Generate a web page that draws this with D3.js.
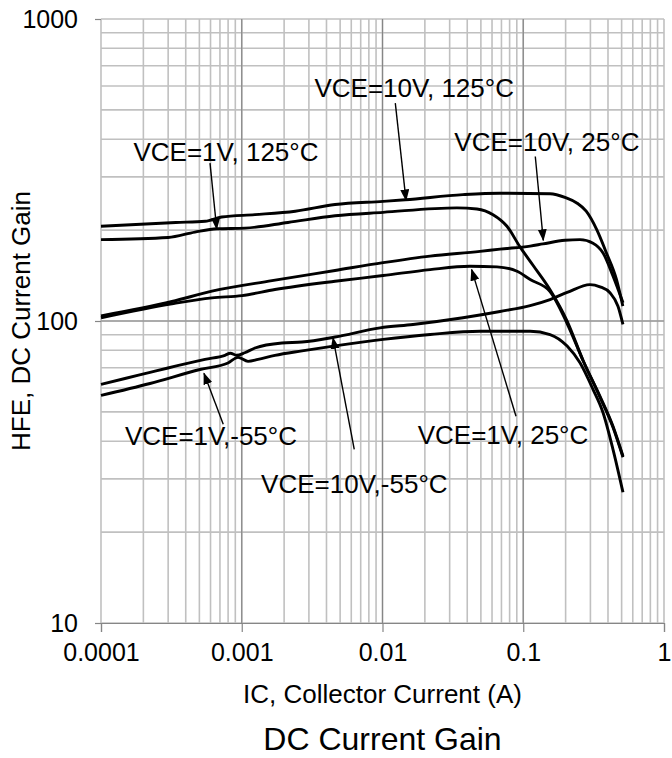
<!DOCTYPE html>
<html>
<head>
<meta charset="utf-8">
<script src="https://cdn.jsdelivr.net/npm/d3@7/dist/d3.min.js"></script>
<style>
    body { margin: 0; background: #fff; }
    text { font-family: "Liberation Sans", Arial, sans-serif; fill: #000; }
</style>
</head>
<body>
<div id="wrapper"></div>
<script>
// curves: IC in A, HFE
const ic10V125 = [1e-4, 3.4e-4, 5.5e-4, 7.2e-4, 1.24e-3, 2.4e-3, 4.6e-3, 0.0101, 0.0145, 0.0373, 0.068, 0.155, 0.2, 0.24, 0.28, 0.334, 0.39, 0.46, 0.51]
const hfe10V125 = [206, 212, 214, 221, 225, 231, 243, 249, 252, 262, 265, 264, 256, 246, 231, 200, 168, 137, 112]

const ic1V125 = [1e-4, 3.0e-4, 4.65e-4, 6.67e-4, 1.055e-3, 2.13e-3, 4.6e-3, 0.0101, 0.0338, 0.0469, 0.061, 0.0766, 0.0948, 0.1173, 0.155, 0.205, 0.266, 0.351, 0.434, 0.511]
const hfe1V125 = [186, 189, 197, 202, 203, 212, 223, 229, 237, 235, 225, 206, 176, 153, 127, 100, 74, 56.3, 44.8, 35.7]

const ic10V25 = [1e-4, 3.19e-4, 6.14e-4, 1.64e-3, 4.6e-3, 0.0101, 0.0218, 0.0493, 0.0684, 0.112, 0.138, 0.198, 0.253, 0.313, 0.369, 0.434, 0.511]
const hfe10V25 = [104, 116, 125.5, 136, 147, 156, 164, 170, 173, 177, 180, 185, 186, 181, 168, 141, 115]

const ic1V25 = [1e-4, 3.19e-4, 6.14e-4, 1.004e-3, 1.72e-3, 4.6e-3, 0.0101, 0.0218, 0.0418, 0.0651, 0.0903, 0.112, 0.155, 0.205, 0.266, 0.351, 0.434, 0.511]
const hfe1V25 = [102.5, 114, 119.3, 121.4, 127.1, 135.4, 141.4, 148, 151.8, 151.1, 146.1, 137.2, 125.2, 98.1, 74, 55.9, 44.5, 35.4]

const ic10Vm55 = [1e-4, 1.48e-4, 2.23e-4, 2.99e-4, 5.48e-4, 7.6e-4, 8.3e-4, 9.2e-4, 1.05e-3, 1.242e-3, 1.93e-3, 2.68e-3, 4.6e-3, 9.6e-3, 0.01647, 0.0373, 0.0684, 0.112, 0.155, 0.205, 0.298, 0.351, 0.413, 0.471, 0.511]
const hfe10Vm55 = [61.7, 64.5, 67.6, 69.9, 74.6, 77.0, 78.2, 77.0, 78.5, 81.4, 84.6, 85.2, 88.5, 94.9, 97.4, 102.5, 107.5, 112.5, 117.8, 124.3, 132, 129.8, 124, 111.9, 97.4]

const ic1Vm55 = [1e-4, 2.23e-4, 5.05e-4, 7.99e-4, 9.41e-4, 1.108e-3, 1.305e-3, 1.72e-3, 2.68e-3, 4.6e-3, 0.0101, 0.0218, 0.0493, 0.112, 0.155, 0.205, 0.253, 0.313, 0.369, 0.434, 0.511]
const hfe1Vm55 = [56.7, 62.1, 69.1, 72.6, 75.8, 73.5, 74.6, 76.9, 79.6, 82.7, 86.9, 90.2, 92.5, 92.5, 90.2, 82.6, 72.7, 59.4, 49.7, 37.6, 27.1]

const xTickLabels = ["0.0001", "0.001", "0.01", "0.1", "1"]
const yTickLabels = ["10", "100", "1000"]

// curve labels: text anchor, arrow tail, arrow tip (IC, HFE)
const labelTexts = ["VCE=1V, 125°C", "VCE=10V, 125°C", "VCE=10V, 25°C", "VCE=1V,-55°C", "VCE=10V,-55°C", "VCE=1V, 25°C"]
const labelAt = [[1.70e-4, 337.6], [0.0859, 553.5], [0.0324, 364.2], [1.48e-4, 38.9], [0.0290, 27.0], [0.01778, 39.1]]
const labelAnchor = ["start", "end", "start", "start", "end", "start"]
const arrowFrom = [[5.95e-4, 333.4], [0.01233, 526.3], [0.1218, 350.6], [7.39e-4, 45.5], [6.30e-3, 37.6], [0.0888, 48.4]]
const arrowTo = [[6.64e-4, 201.7], [0.01469, 250.8], [0.1388, 185.0], [5.39e-4, 67.1], [4.45e-3, 87.9], [0.0430, 148.0]]

const series = [
    [ic10V125, hfe10V125],
    [ic1V125, hfe1V125],
    [ic10V25, hfe10V25],
    [ic1V25, hfe1V25],
    [ic10Vm55, hfe10Vm55],
    [ic1Vm55, hfe1Vm55],
].map(([xs, ys]) => xs.map((x, i) => ({ ic: x, hfe: ys[i] })))

let dimensions = {
    width: 672,
    height: 758,
    margin: { top: 19, right: 8, bottom: 135, left: 101 },
}
dimensions.boundedWidth = dimensions.width - dimensions.margin.left - dimensions.margin.right
dimensions.boundedHeight = dimensions.height - dimensions.margin.top - dimensions.margin.bottom

const wrapper = d3.select("#wrapper")
    .append("svg")
    .attr("width", dimensions.width)
    .attr("height", dimensions.height)

const bounds = wrapper.append("g")
    .attr("transform", `translate(${dimensions.margin.left},${dimensions.margin.top})`)

const xScale = d3.scaleLog()
    .domain([1e-4, 1])
    .range([0, dimensions.boundedWidth])
const yScale = d3.scaleLog()
    .domain([10, 1000])
    .range([dimensions.boundedHeight, 0])

const isDecade = v => Math.abs(Math.log10(v) - Math.round(Math.log10(v))) < 1e-9

// minor grid
const grid = bounds.append("g")
grid.selectAll(".vminor")
    .data(xScale.ticks())
    .join("line")
    .attr("x1", d => xScale(d)).attr("x2", d => xScale(d))
    .attr("y1", 0).attr("y2", dimensions.boundedHeight)
    .attr("stroke", "#c0c0c0").attr("stroke-width", 1.6)
grid.selectAll(".hminor")
    .data(yScale.ticks())
    .join("line")
    .attr("y1", d => yScale(d)).attr("y2", d => yScale(d))
    .attr("x1", 0).attr("x2", dimensions.boundedWidth)
    .attr("stroke", "#c0c0c0").attr("stroke-width", 1.6)

// major grid lines inside the frame
const innerX = xScale.ticks().filter(d => isDecade(d) && d > 1e-4 && d < 1)
grid.selectAll(".vmajor")
    .data(innerX)
    .join("line")
    .attr("x1", d => xScale(d)).attr("x2", d => xScale(d))
    .attr("y1", 0).attr("y2", dimensions.boundedHeight)
    .attr("stroke", "#868686").attr("stroke-width", 1.2)
grid.append("line")
    .attr("x1", 0).attr("x2", dimensions.boundedWidth)
    .attr("y1", yScale(100)).attr("y2", yScale(100))
    .attr("stroke", "#868686").attr("stroke-width", 1.2)

// axes
const xAxisGen = d3.axisBottom(xScale)
    .tickValues(xTickLabels.map(Number))
    .tickFormat((d, i) => xTickLabels[i])
    .tickSize(9)
    .tickPadding(11)
const xAxis = bounds.append("g")
    .attr("transform", `translate(0,${dimensions.boundedHeight})`)
    .call(xAxisGen)
xAxis.select(".domain").attr("stroke", "#868686").attr("stroke-width", 1.2)
xAxis.selectAll(".tick line").attr("stroke", "#868686").attr("stroke-width", 1.2)
xAxis.selectAll(".tick text")
    .attr("font-size", 25)
    .attr("font-family", "Liberation Sans, Arial, sans-serif")
    .attr("fill", "#000")

const yAxisGen = d3.axisLeft(yScale)
    .tickValues(yTickLabels.map(Number))
    .tickFormat((d, i) => yTickLabels[i])
    .tickSize(6)
    .tickPadding(17)
const yAxis = bounds.append("g").call(yAxisGen)
yAxis.select(".domain").remove()
yAxis.selectAll(".tick line").attr("stroke", "#868686").attr("stroke-width", 1.2)
yAxis.selectAll(".tick text")
    .attr("font-size", 25)
    .attr("font-family", "Liberation Sans, Arial, sans-serif")
    .attr("fill", "#000")

// curves
const lineGen = d3.line()
    .x(d => xScale(d.ic))
    .y(d => yScale(d.hfe))
    .curve(d3.curveMonotoneX)

bounds.append("g")
    .selectAll("path")
    .data(series)
    .join("path")
    .attr("d", lineGen)
    .attr("fill", "none")
    .attr("stroke", "#000")
    .attr("stroke-width", 2.9)
    .attr("stroke-linejoin", "round")

// arrows + labels
wrapper.append("defs")
    .append("marker")
    .attr("id", "head")
    .attr("markerUnits", "userSpaceOnUse")
    .attr("markerWidth", 12).attr("markerHeight", 10)
    .attr("refX", 11).attr("refY", 4.5)
    .attr("orient", "auto")
    .append("path")
    .attr("d", "M0,0 L12,4.5 L0,9 Z")
    .attr("fill", "#000")

const notes = bounds.append("g")
notes.selectAll("line")
    .data(labelTexts)
    .join("line")
    .attr("x1", (d, i) => xScale(arrowFrom[i][0]))
    .attr("y1", (d, i) => yScale(arrowFrom[i][1]))
    .attr("x2", (d, i) => xScale(arrowTo[i][0]))
    .attr("y2", (d, i) => yScale(arrowTo[i][1]))
    .attr("stroke", "#000")
    .attr("stroke-width", 1.4)
    .attr("marker-end", "url(#head)")
notes.selectAll("text")
    .data(labelTexts)
    .join("text")
    .attr("x", (d, i) => xScale(labelAt[i][0]))
    .attr("y", (d, i) => yScale(labelAt[i][1]))
    .attr("text-anchor", (d, i) => labelAnchor[i])
    .attr("font-size", 26)
    .text(d => d)

// axis titles
wrapper.append("text")
    .attr("x", dimensions.margin.left + dimensions.boundedWidth / 2)
    .attr("y", 703)
    .attr("text-anchor", "middle")
    .attr("font-size", 26)
    .text("IC, Collector Current (A)")

wrapper.append("text")
    .attr("transform", `translate(30,${dimensions.margin.top + dimensions.boundedHeight / 2}) rotate(-90)`)
    .attr("text-anchor", "middle")
    .attr("font-size", 26)
    .text("HFE, DC Current Gain")

wrapper.append("text")
    .attr("x", dimensions.margin.left + dimensions.boundedWidth / 2)
    .attr("y", 750)
    .attr("text-anchor", "middle")
    .attr("font-size", 32)
    .text("DC Current Gain")
</script>
</body>
</html>
